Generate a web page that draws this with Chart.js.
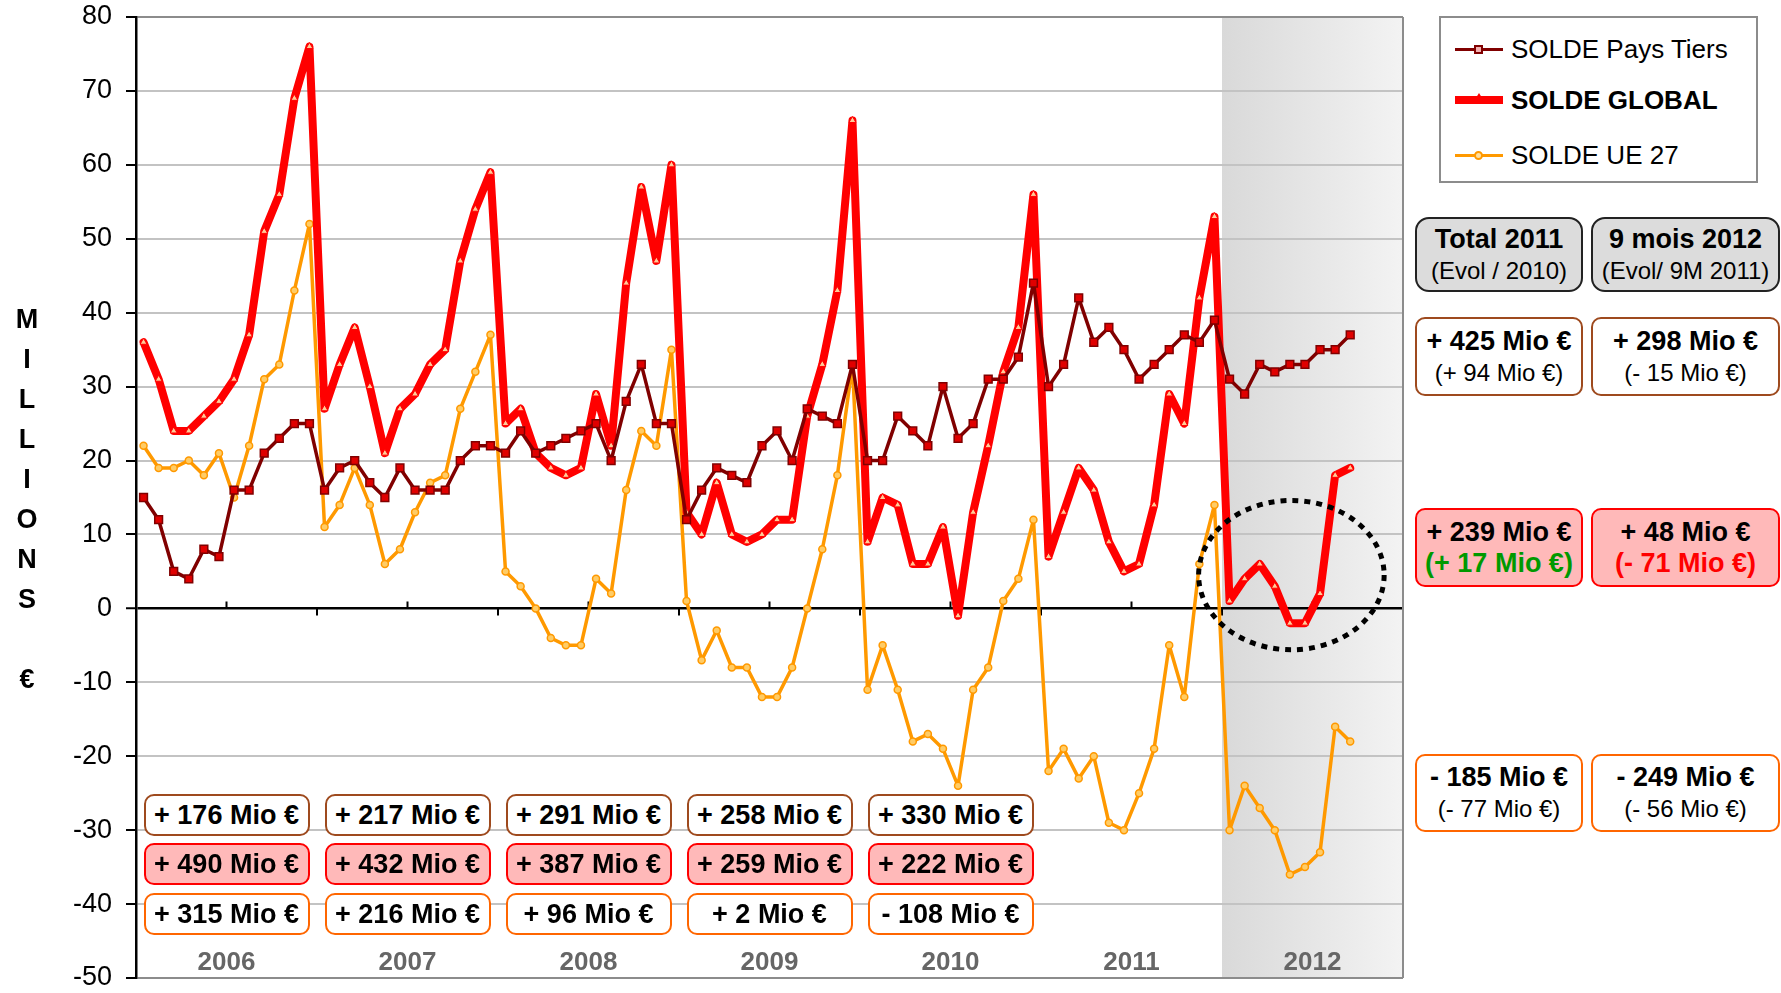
<!DOCTYPE html>
<html lang="fr">
<head>
<meta charset="UTF-8" />
<title>Solde commercial</title>
<script src="https://cdn.jsdelivr.net/npm/chart.js@4.4.0/dist/chart.umd.min.js"></script>
<style>
  body { margin: 0; background: #fff; font-family: 'Liberation Sans', Arial, sans-serif; }
  #wrap { position: relative; width: 1781px; height: 993px; overflow: hidden; }
  #chart { position: absolute; left: 0; top: 0; }
  .box {
    position: absolute; box-sizing: border-box; border: 2px solid; border-radius: 10px;
    display: flex; flex-direction: column; align-items: center; justify-content: center;
    text-align: center; color: #000; white-space: nowrap; line-height: 31px;
  }
  .b1 { font-weight: bold; font-size: 27px; }
  .b2 { font-size: 24px; }
  .tiers { border-color: #9e4a1e; background: #fff; }
  .global { border-color: #ff0000; background: #ffb9b9; }
  .ue { border-color: #ff6600; background: #fff; }
  .head { border-color: #222; background: #dcdcdc; border-radius: 14px; }
  #unit {
    position: absolute; left: 7px; top: 299px; width: 40px; text-align: center;
    font-weight: bold; font-size: 27px; line-height: 40px;
  }
  #legend { position: absolute; left: 1439px; top: 16px; width: 319px; height: 167px;
    box-sizing: border-box; border: 2px solid #8c8c8c; background: #fff; }
  .lg { position: absolute; left: 14px; height: 30px; width: 300px; }
  .lg .ln { position: absolute; left: 0; width: 48px; top: 50%; }
  .lg .mk { position: absolute; left: 19px; top: 50%; box-sizing: border-box; }
  .lg .tx { position: absolute; left: 56px; top: 0; font-size: 26px; line-height: 30px; }
</style>
</head>
<body>
<div id="wrap">
  <canvas id="chart" width="1781" height="993"></canvas>
  <div id="unit">M<br>I<br>L<br>L<br>I<br>O<br>N<br>S<br>&nbsp;<br>€</div>
  <div id="legend"></div>
</div>

<script>
  // months Jan 2006 .. Sep 2012 (axis runs to Dec 2012)
  const years = ["2006", "2007", "2008", "2009", "2010", "2011", "2012"];
  const monthsOnAxis = 84;

  const soldePaysTiers = [
    15, 12, 5, 4, 8, 7, 16, 16, 21, 23, 25, 25,
    16, 19, 20, 17, 15, 19, 16, 16, 16, 20, 22, 22,
    21, 24, 21, 22, 23, 24, 25, 20, 28, 33, 25, 25,
    12, 16, 19, 18, 17, 22, 24, 20, 27, 26, 25, 33,
    20, 20, 26, 24, 22, 30, 23, 25, 31, 31, 34, 44,
    30, 33, 42, 36, 38, 35, 31, 33, 35, 37, 36, 39,
    31, 29, 33, 32, 33, 33, 35, 35, 37
  ];
  const soldeGlobal = [
    36, 31, 24, 24, 26, 28, 31, 37, 51, 56, 69, 76,
    27, 33, 38, 30, 21, 27, 29, 33, 35, 47, 54, 59,
    25, 27, 21, 19, 18, 19, 29, 22, 44, 57, 47, 60,
    13, 10, 17, 10, 9, 10, 12, 12, 26, 33, 43, 66,
    9, 15, 14, 6, 6, 11, -1, 13, 22, 32, 38, 56,
    7, 13, 19, 16, 9, 5, 6, 14, 29, 25, 42, 53,
    1, 4, 6, 3, -2, -2, 2, 18, 19
  ];
  const soldeUE27 = [
    22, 19, 19, 20, 18, 21, 15, 22, 31, 33, 43, 52,
    11, 14, 19, 14, 6, 8, 13, 17, 18, 27, 32, 37,
    5, 3, 0, -4, -5, -5, 4, 2, 16, 24, 22, 35,
    1, -7, -3, -8, -8, -12, -12, -8, 0, 8, 18, 33,
    -11, -5, -11, -18, -17, -19, -24, -11, -8, 1, 4, 12,
    -22, -19, -23, -20, -29, -30, -25, -19, -5, -12, 6, 14,
    -30, -24, -27, -30, -36, -35, -33, -16, -18
  ];

  const seriesNames = ["SOLDE Pays Tiers", "SOLDE GLOBAL", "SOLDE UE 27"];

  // yearly totals, 2006..2010
  const totalTiers = ["+ 176 Mio €", "+ 217 Mio €", "+ 291 Mio €", "+ 258 Mio €", "+ 330 Mio €"];
  const totalGlobal = ["+ 490 Mio €", "+ 432 Mio €", "+ 387 Mio €", "+ 259 Mio €", "+ 222 Mio €"];
  const totalUE = ["+ 315 Mio €", "+ 216 Mio €", "+ 96 Mio €", "+ 2 Mio €", "- 108 Mio €"];

  // recap columns
  const headTitles = ["Total 2011", "9 mois 2012"];
  const headSubs = ["(Evol / 2010)", "(Evol/ 9M 2011)"];
  const recapTiers = [["+ 425 Mio €", "(+ 94 Mio €)"], ["+ 298 Mio €", "(- 15 Mio €)"]];
  const recapGlobal = [["+ 239 Mio €", "(+ 17 Mio €)"], ["+ 48 Mio €", "(- 71 Mio €)"]];
  const recapUE = [["- 185 Mio €", "(- 77 Mio €)"], ["- 249 Mio €", "(- 56 Mio €)"]];
  const recapGlobalEvolColor = ["#009900", "#ff0000"];

  const toPoints = (arr) => arr.map((v, i) => ({ x: i + 0.5, y: v }));

  Chart.defaults.font.family = "'Liberation Sans', Arial, sans-serif";

  const decor = {
    id: "decor",
    beforeDraw(chart) {
      // 2012 shaded band
      const { ctx, chartArea: a, scales: { x } } = chart;
      const x0 = x.getPixelForValue(72), x1 = x.getPixelForValue(84);
      const g = ctx.createLinearGradient(x0, 0, x1, 0);
      g.addColorStop(0, "#d9d9d9");
      g.addColorStop(1, "#f3f3f3");
      ctx.save();
      ctx.fillStyle = g;
      ctx.fillRect(x0, a.top, x1 - x0, a.bottom - a.top);
      ctx.restore();
    },
    beforeDatasetsDraw(chart) {
      const { ctx, chartArea: a, scales: { x, y } } = chart;
      ctx.save();
      ctx.strokeStyle = "#8c8c8c";
      ctx.lineWidth = 2;
      ctx.beginPath();
      ctx.moveTo(a.right, a.top);
      ctx.lineTo(a.right, a.bottom);
      ctx.stroke();
      // small ticks on the zero line, every 6 months
      const y0 = y.getPixelForValue(0);
      ctx.strokeStyle = "#000";
      ctx.beginPath();
      for (let m = 6; m < monthsOnAxis; m += 6) {
        const px = x.getPixelForValue(m);
        const up = m % 12 === 6;
        ctx.moveTo(px, y0);
        ctx.lineTo(px, up ? y0 - 7 : y0 + 7);
      }
      ctx.stroke();
      ctx.restore();
    },
    afterDatasetsDraw(chart) {
      // dotted ellipse around the 2012 dip
      const { ctx, scales: { x, y } } = chart;
      const cx = x.getPixelForValue(76.6), cy = y.getPixelForValue(4.5);
      const rx = x.getPixelForValue(76.6 + 6.15) - cx;
      const ry = cy - y.getPixelForValue(4.5 + 10.1);
      ctx.save();
      ctx.strokeStyle = "#000";
      ctx.lineWidth = 5;
      ctx.setLineDash([6, 6]);
      ctx.beginPath();
      ctx.ellipse(cx, cy, rx, ry, 0, 0, Math.PI * 2);
      ctx.stroke();
      ctx.restore();
    }
  };

  const chart = new Chart(document.getElementById("chart"), {
    type: "line",
    data: {
      datasets: [
        {
          label: seriesNames[0],
          data: toPoints(soldePaysTiers),
          borderColor: "#800000",
          borderWidth: 3.5,
          pointStyle: "rect",
          pointRadius: 5.5,
          pointBackgroundColor: "#e00000",
          pointBorderColor: "#800000",
          pointBorderWidth: 1.5
        },
        {
          label: seriesNames[1],
          data: toPoints(soldeGlobal),
          borderColor: "#ff0000",
          borderWidth: 8,
          pointStyle: "triangle",
          pointRadius: 4,
          pointBackgroundColor: "#ffcc99",
          pointBorderColor: "#ff0000",
          pointBorderWidth: 1
        },
        {
          label: seriesNames[2],
          data: toPoints(soldeUE27),
          borderColor: "#ff9900",
          borderWidth: 3.5,
          pointStyle: "circle",
          pointRadius: 3.5,
          pointBackgroundColor: "#ffcc66",
          pointBorderColor: "#ff9900",
          pointBorderWidth: 1.5
        }
      ]
    },
    options: {
      responsive: false,
      animation: false,
      devicePixelRatio: 1,
      layout: { padding: { top: 17, right: 378, bottom: 0, left: 0 } },
      elements: { line: { tension: 0, borderJoinStyle: "round", borderCapStyle: "round" } },
      scales: {
        x: {
          type: "linear",
          min: 0,
          max: monthsOnAxis,
          grid: { display: false, drawTicks: false },
          border: { display: false },
          ticks: {
            stepSize: 6,
            autoSkip: false,
            maxRotation: 0,
            mirror: true,
            padding: 0,
            color: "#666",
            font: { size: 26, weight: "bold" },
            callback: (v) => (v % 12 === 6 ? years[(v - 6) / 12] : "")
          },
          afterFit: (s) => { s.height = 15; s.paddingLeft = 0; s.paddingRight = 0; }
        },
        y: {
          min: -50,
          max: 80,
          ticks: {
            stepSize: 10,
            padding: 14,
            color: "#000",
            font: { size: 27 }
          },
          grid: {
            color: (c) => (c.tick.value === 0 ? "#000" : (c.tick.value === 80 || c.tick.value === -50) ? "#8c8c8c" : "#c3c3c3"),
            lineWidth: (c) => (c.tick.value === 0 ? 2.5 : 2),
            tickColor: "#000",
            tickLength: 10,
            tickWidth: 2
          },
          border: { color: "#000", width: 2.5 },
          afterFit: (s) => { s.width = 136; s.paddingTop = 0; s.paddingBottom = 0; }
        }
      },
      plugins: {
        legend: { display: false },
        tooltip: { enabled: false }
      }
    },
    plugins: [decor]
  });

  // ---- annotation boxes ----
  const wrap = document.getElementById("wrap");
  function addBox(cls, left, top, w, h, lines) {
    const d = document.createElement("div");
    d.className = "box " + cls;
    Object.assign(d.style, { left: left + "px", top: top + "px", width: w + "px", height: h + "px" });
    lines.forEach((l) => {
      const s = document.createElement("div");
      s.className = l.cls || "";
      s.textContent = l.text;
      if (l.color) s.style.color = l.color;
      d.appendChild(s);
    });
    wrap.appendChild(d);
  }

  const xs = chart.scales.x;
  totalTiers.forEach((t, k) => {
    const cx = xs.getPixelForValue(6 + 12 * k);
    addBox("tiers", cx - 83, 794, 166, 42, [{ text: t, cls: "b1" }]);
    addBox("global", cx - 83, 843, 166, 42, [{ text: totalGlobal[k], cls: "b1" }]);
    addBox("ue", cx - 83, 893, 166, 42, [{ text: totalUE[k], cls: "b1" }]);
  });

  const colLeft = [1415, 1591], colW = [168, 189];
  for (let c = 0; c < 2; c++) {
    addBox("head", colLeft[c], 217, colW[c], 75, [{ text: headTitles[c], cls: "b1" }, { text: headSubs[c], cls: "b2" }]);
    addBox("tiers", colLeft[c], 317, colW[c], 79, [{ text: recapTiers[c][0], cls: "b1" }, { text: recapTiers[c][1], cls: "b2" }]);
    addBox("global", colLeft[c], 508, colW[c], 79, [{ text: recapGlobal[c][0], cls: "b1" }, { text: recapGlobal[c][1], cls: "b1", color: recapGlobalEvolColor[c] }]);
    addBox("ue", colLeft[c], 754, colW[c], 78, [{ text: recapUE[c][0], cls: "b1" }, { text: recapUE[c][1], cls: "b2" }]);
  }

  // ---- legend ----
  const legend = document.getElementById("legend");
  const legendStyle = [
    { line: "#800000", lw: 3, mk: "border:2px solid #800000;background:#f2b0b0;width:9px;height:9px;margin:-4.5px 0 0 0;" },
    { line: "#ff0000", lw: 8, mk: "width:0;height:0;border-left:5px solid transparent;border-right:5px solid transparent;border-bottom:8px solid #ff0000;margin:-7px 0 0 0;" },
    { line: "#ff9900", lw: 3, mk: "border:2px solid #ff9900;background:#ffe0a0;width:9px;height:9px;border-radius:50%;margin:-4.5px 0 0 0;" }
  ];
  const legendRowTop = [16, 67, 122];
  seriesNames.forEach((n, i) => {
    const row = document.createElement("div");
    row.className = "lg";
    row.style.top = legendRowTop[i] + "px";
    const st = legendStyle[i];
    row.innerHTML =
      '<div class="ln" style="height:' + st.lw + "px;margin-top:" + (-st.lw / 2) + "px;background:" + st.line + '"></div>' +
      '<div class="mk" style="' + st.mk + '"></div>' +
      '<div class="tx" style="font-weight:' + (i === 1 ? "bold" : "normal") + '"></div>';
    row.querySelector(".tx").textContent = n;
    legend.appendChild(row);
  });
</script>
</body>
</html>
